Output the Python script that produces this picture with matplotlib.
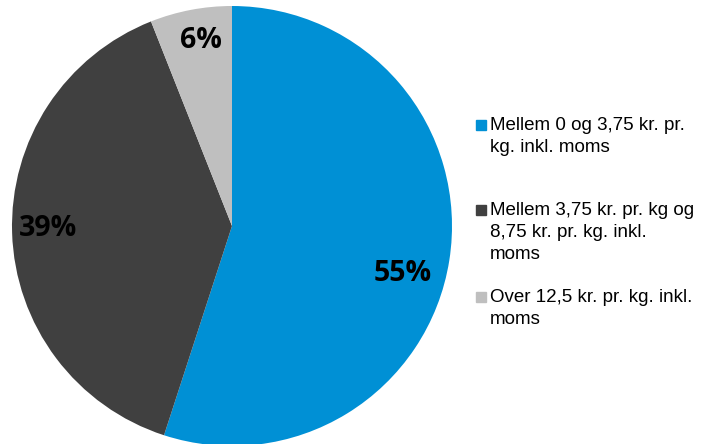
import matplotlib
matplotlib.use("Agg")
import matplotlib.pyplot as plt
from matplotlib.patches import Rectangle

categories = ["Mellem 0 og 3,75 kr. pr.\nkg. inkl. moms",
              "Mellem 3,75 kr. pr. kg og\n8,75 kr. pr. kg. inkl.\nmoms",
              "Over 12,5 kr. pr. kg. inkl.\nmoms"]
shares = [55, 39, 6]
labels = ["55%", "39%", "6%"]
colors = ["#0090D5", "#404040", "#BFBFBF"]

W, H = 708, 444
fig = plt.figure(figsize=(W/100, H/100), dpi=100)
cx, cy, r = 232, 226, 220
ax = fig.add_axes([(cx-r)/W, (H-cy-r)/H, 2*r/W, 2*r/H])
wedges, _ = ax.pie(shares, colors=colors, startangle=90, counterclock=False,
                   radius=1, wedgeprops=dict(linewidth=0))
ax.set_xlim(-1, 1); ax.set_ylim(-1, 1); ax.set_aspect("equal"); ax.axis("off")

# percentage labels (pixel positions of label centres)
lab_pos = [(403, 273), (48, 228), (201, 40)]
for (px, py), t in zip(lab_pos, labels):
    fig.text(px/W, 1-py/H, t, ha="center", va="center", fontsize=20.5,
             fontweight="bold", family="Open Sans", color="black")

# legend
entry_tops = [125, 210, 297]
line_h = 22
for top, cat, col in zip(entry_tops, categories, colors):
    fig.patches.append(Rectangle((476/W, 1-(top+5)/H), 10/W, 10/H,
                                 transform=fig.transFigure, color=col))
    for i, line in enumerate(cat.split("\n")):
        fig.text(490/W, 1-(top+i*line_h)/H, line, ha="left", va="center",
                 fontsize=13.5, family="Liberation Sans", color="black")

fig.savefig("out.png", dpi=100)
